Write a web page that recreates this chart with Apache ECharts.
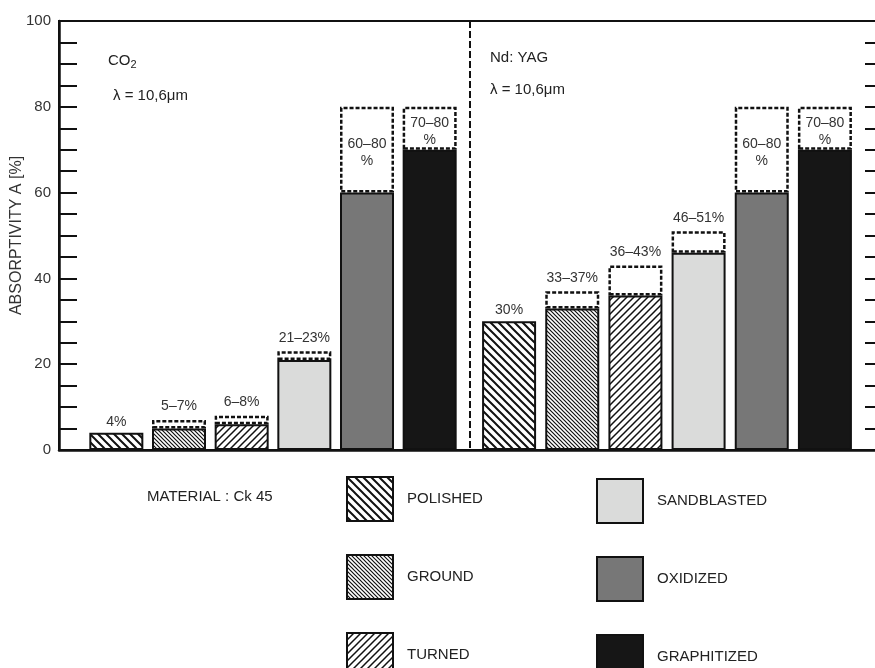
<!DOCTYPE html>
<html>
<head>
<meta charset="utf-8">
<script src="https://cdn.jsdelivr.net/npm/echarts@6/dist/echarts.min.js"></script>
<style>
  html, body { margin: 0; padding: 0; background: #fff; }
  #chart { width: 875px; height: 668px; }
</style>
</head>
<body>
<div id="chart"></div>
<script>
// Surface finishes of Ck 45 steel
const materials = ['POLISHED', 'GROUND', 'TURNED', 'SANDBLASTED', 'OXIDIZED', 'GRAPHITIZED'];

// CO2 laser: lower / upper absorptivity (%), null = single value
const co2Low  = [4, 5, 6, 21, 60, 70];
const co2High = [null, 7, 8, 23, 80, 80];

// Nd:YAG laser: lower / upper absorptivity (%)
const yagLow  = [30, 33, 36, 46, 60, 70];
const yagHigh = [null, 37, 43, 51, 80, 80];

// Labelled ticks on the absorptivity axis
const yTickLabels = [0, 20, 40, 60, 80, 100];

const FONT = '"Liberation Sans", Arial, Helvetica, sans-serif';
const INK = '#111';

// Hatch tiles for the machined finishes
function hatch(size, width, dir) {
  const c = document.createElement('canvas');
  c.width = size; c.height = size;
  const g = c.getContext('2d');
  g.fillStyle = '#fff';
  g.fillRect(0, 0, size, size);
  g.strokeStyle = INK;
  g.lineWidth = width;
  g.beginPath();
  for (let k = -1; k <= 1; k++) {
    if (dir === 'back') {
      g.moveTo(-1, -1 + k * size);
      g.lineTo(size + 1, size + 1 + k * size);
    } else {
      g.moveTo(-1, size + 1 + k * size);
      g.lineTo(size + 1, -1 + k * size);
    }
  }
  g.stroke();
  return { image: c, repeat: 'repeat' };
}

const fills = [
  hatch(8, 2, 'back'),     // polished
  hatch(4, 1.2, 'back'),   // ground
  hatch(7, 1.5, 'fwd'),    // turned
  '#dadbda',               // sandblasted
  '#777777',               // oxidized
  '#161616'                // graphitized
];

const labelStyle = { color: '#333', fontSize: 14, fontFamily: FONT };

function groupSeries(low, high, gi) {
  const out = [];
  materials.forEach((m, i) => {
    out.push({
      name: m,
      type: 'bar',
      xAxisIndex: gi + 1,
      yAxisIndex: gi + 2,
      stack: 'g' + gi,
      barWidth: 54,
      itemStyle: { color: fills[i], borderColor: INK, borderWidth: 2 },
      emphasis: { disabled: true },
      data: materials.map((_, j) => {
        if (j !== i) return '-';
        const item = { value: low[i] };
        if (high[i] == null) {
          item.label = Object.assign({ show: true, position: 'top', distance: 4,
            formatter: low[i] + '%' }, labelStyle);
        }
        return item;
      })
    });
  });
  // dashed box spanning the upper part of each range
  out.push({
    name: 'range',
    type: 'bar',
    xAxisIndex: gi + 1,
    yAxisIndex: gi + 2,
    stack: 'g' + gi,
    barWidth: 54,
    itemStyle: { color: '#fff', borderColor: INK, borderWidth: 2.5, borderType: [4, 2] },
    emphasis: { disabled: true },
    data: materials.map((_, i) => {
      if (high[i] == null) return '-';
      const span = high[i] - low[i];
      const tall = span >= 10;
      return {
        value: span,
        label: Object.assign({
          show: true,
          position: tall ? 'inside' : 'top',
          distance: 5,
          offset: tall ? [0, 3] : [0, 0],
          lineHeight: 17,
          formatter: low[i] + '–' + high[i] + (tall ? '\n%' : '%')
        }, labelStyle)
      };
    })
  });
  return out;
}

const legendBase = {
  orient: 'vertical',
  icon: 'rect',
  itemWidth: 46,
  itemHeight: 44,
  itemGap: 32,
  height: 260,
  padding: 0,
  selectedMode: false,
  itemStyle: { borderColor: INK, borderWidth: 2 },
  textStyle: { fontSize: 15, color: '#222', fontFamily: FONT, padding: [0, 0, 0, 9] }
};

const chart = echarts.init(document.getElementById('chart'), null, { renderer: 'canvas' });
chart.setOption({
  animation: false,
  backgroundColor: '#fff',
  textStyle: { fontFamily: FONT },
  grid: [
    { left: 59, top: 21, width: 822, height: 429, show: true, borderColor: INK, borderWidth: 2,
      backgroundColor: 'transparent', outerBoundsMode: 'none', containLabel: false },
    { left: 85, top: 21, width: 376, height: 429, outerBoundsMode: 'none', containLabel: false },
    { left: 477.5, top: 21, width: 379, height: 429, outerBoundsMode: 'none', containLabel: false }
  ],
  xAxis: [
    {
      gridIndex: 0, type: 'value', min: 0, max: 2, interval: 1,
      axisLine: { show: true, onZero: false, lineStyle: { color: INK, width: 2.5 } },
      axisTick: { show: false }, axisLabel: { show: false },
      splitLine: { show: true, showMinLine: false, showMaxLine: false,
        lineStyle: { color: INK, width: 2, type: [7, 3] } }
    },
    { gridIndex: 1, type: 'category', data: materials, show: false },
    { gridIndex: 2, type: 'category', data: materials, show: false }
  ],
  yAxis: [
    {
      gridIndex: 0, type: 'value', min: 0, max: 100, interval: 5, position: 'left',
      name: 'ABSORPTIVITY A [%]', nameLocation: 'middle', nameGap: 34, nameMoveOverlap: false,
      nameTextStyle: { fontSize: 16, color: '#333', fontFamily: FONT },
      axisLine: { show: true, onZero: false, lineStyle: { color: INK, width: 2.5 } },
      axisTick: { show: true, inside: true, length: 18, lineStyle: { color: INK, width: 2 } },
      axisLabel: { fontSize: 15, color: '#333', margin: 8, fontFamily: FONT,
        formatter: v => yTickLabels.includes(v) ? String(v) : '' },
      splitLine: { show: false }
    },
    {
      gridIndex: 0, type: 'value', min: 0, max: 100, interval: 5, position: 'right',
      axisLine: { show: false, onZero: false },
      axisTick: { show: true, inside: true, length: 16, lineStyle: { color: INK, width: 2 } },
      axisLabel: { show: false }, splitLine: { show: false }
    },
    { gridIndex: 1, type: 'value', min: 0, max: 100, show: false },
    { gridIndex: 2, type: 'value', min: 0, max: 100, show: false }
  ],
  legend: [
    Object.assign({ data: materials.slice(0, 3), left: 346, top: 476 }, legendBase),
    Object.assign({ data: materials.slice(3), left: 596, top: 478 }, legendBase)
  ],
  graphic: [
    { type: 'text', left: 108, top: 53, style: {
        text: '{a|CO}{s|2}',
        rich: { a: { fontSize: 15, fill: '#222', fontFamily: FONT },
                s: { fontSize: 11, fill: '#222', fontFamily: FONT, padding: [8, 0, 0, 0] } } } },
    { type: 'text', left: 113, top: 88, style: { text: 'λ = 10,6μm', fontSize: 15, fill: '#222', fontFamily: FONT } },
    { type: 'text', left: 490, top: 50, style: { text: 'Nd: YAG', fontSize: 15, fill: '#222', fontFamily: FONT } },
    { type: 'text', left: 490, top: 82, style: { text: 'λ = 10,6μm', fontSize: 15, fill: '#222', fontFamily: FONT } },
    { type: 'text', left: 147, top: 489, style: { text: 'MATERIAL : Ck 45', fontSize: 15, fill: '#222', fontFamily: FONT } }
  ],
  series: [].concat(groupSeries(co2Low, co2High, 0), groupSeries(yagLow, yagHigh, 1))
});
</script>
</body>
</html>
